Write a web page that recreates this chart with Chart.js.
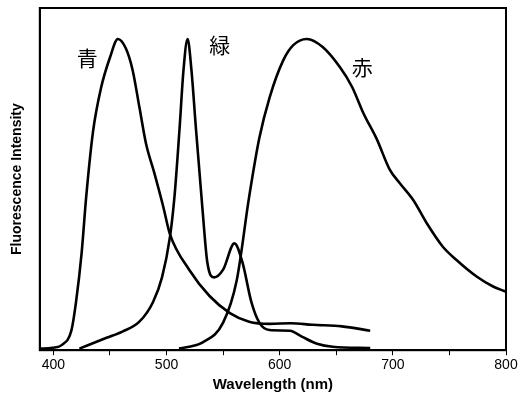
<!DOCTYPE html>
<html>
<head>
<meta charset="utf-8">
<script src="https://cdn.jsdelivr.net/npm/chart.js@4/dist/chart.umd.min.js"></script>
<style>
  html, body { margin: 0; padding: 0; background: #fff; }
  #wrap { width: 521px; height: 401px; }
</style>
</head>
<body>
<div id="wrap"><canvas id="graf"></canvas></div>
<script>
// dados (comprimento de onda nm, intensidade relativa)
const blueX = [388, 399, 408, 416, 420, 425, 429, 435, 442, 450, 457, 464, 470, 476, 482, 489, 497, 503, 520, 538, 556, 573, 591, 610, 629, 655, 680];
const blueY = [0.0, 0.003, 0.013, 0.06, 0.15, 0.31, 0.49, 0.70, 0.84, 0.94, 1.0, 0.97, 0.90, 0.78, 0.66, 0.57, 0.46, 0.37, 0.255, 0.17, 0.115, 0.087, 0.08, 0.082, 0.077, 0.072, 0.058];

const greenX = [423, 447, 461, 476, 488, 496, 503, 507, 511.5, 515, 518.6, 522, 526, 532, 536, 542, 550, 560, 567, 575, 582, 591, 609, 620, 633, 647, 680];
const greenY = [0.0, 0.035, 0.055, 0.087, 0.15, 0.23, 0.36, 0.49, 0.71, 0.90, 1.0, 0.90, 0.71, 0.44, 0.28, 0.23, 0.255, 0.34, 0.28, 0.15, 0.084, 0.06, 0.058, 0.038, 0.016, 0.006, 0.002];

const redX = [511, 520, 532, 550, 562, 573, 582, 591, 603, 612, 624, 638, 653, 664, 674, 686, 697, 706, 718, 730, 744, 756, 774, 789, 800];
const redY = [0.0, 0.006, 0.02, 0.084, 0.22, 0.49, 0.68, 0.81, 0.93, 0.98, 1.0, 0.974, 0.91, 0.845, 0.76, 0.675, 0.58, 0.535, 0.48, 0.405, 0.33, 0.287, 0.233, 0.20, 0.184];

const xTicks = [400, 500, 600, 700, 800];
const seriesLabels = ['青', '緑', '赤'];
// onde escrever os rotulos (nm, intensidade)
const labelPos = [[430, 0.94], [547, 0.98], [673, 0.91]];

function pontos(xs, ys) {
  return xs.map((x, i) => ({ x: x, y: ys[i] }));
}

const molduraPlugin = {
  id: 'moldura',
  afterDraw(chart) {
    const { ctx, chartArea: a, scales } = chart;
    ctx.save();
    ctx.strokeStyle = '#000';
    ctx.lineWidth = 2;
    ctx.strokeRect(a.left, a.top, a.right - a.left, a.bottom - a.top);
    ctx.fillStyle = '#000';
    ctx.font = '21px "Noto Sans CJK JP"';
    ctx.textAlign = 'center';
    ctx.textBaseline = 'middle';
    seriesLabels.forEach((t, i) => {
      ctx.fillText(t, scales.x.getPixelForValue(labelPos[i][0]), scales.y.getPixelForValue(labelPos[i][1]));
    });
    ctx.restore();
  }
};

const linha = { borderColor: '#000', borderWidth: 2.6, pointRadius: 0, cubicInterpolationMode: 'monotone', fill: false };

const ctx = document.getElementById('graf').getContext('2d');
const myChart = new Chart(ctx, {
  type: 'line',
  data: {
    datasets: [
      Object.assign({ label: seriesLabels[0], data: pontos(blueX, blueY) }, linha),
      Object.assign({ label: seriesLabels[1], data: pontos(greenX, greenY) }, linha),
      Object.assign({ label: seriesLabels[2], data: pontos(redX, redY) }, linha)
    ]
  },
  options: {
    responsive: true,
    maintainAspectRatio: false,
    animation: false,
    layout: { padding: { top: 8, right: 15, left: 9, bottom: 5 } },
    plugins: { legend: { display: false }, tooltip: { enabled: false } },
    scales: {
      x: {
        type: 'linear',
        min: 388,
        max: 800,
        afterBuildTicks: (s) => { s.ticks = [400, 450, 500, 550, 600, 650, 700, 750, 800].map(v => ({ value: v })); },
        ticks: {
          color: '#000',
          font: { family: 'Liberation Sans', size: 14 },
          padding: 2,
          maxRotation: 0,
          autoSkip: false,
          callback: (v) => xTicks.includes(v) ? String(v) : ''
        },
        grid: { drawOnChartArea: false, tickLength: 5, color: '#000' },
        border: { color: '#000', width: 2 },
        title: {
          display: true,
          text: 'Wavelength (nm)',
          color: '#000',
          font: { family: 'Liberation Sans', size: 15, weight: 'bold' },
          padding: { top: 0, bottom: 2 }
        }
      },
      y: {
        min: -0.005,
        max: 1.1,
        ticks: { display: false },
        grid: { display: false },
        border: { color: '#000', width: 2 },
        title: {
          display: true,
          text: 'Fluorescence Intensity',
          color: '#000',
          font: { family: 'Liberation Sans', size: 14, weight: 'bold' },
          padding: { top: 0, bottom: 6 }
        }
      }
    }
  },
  plugins: [molduraPlugin]
});
</script>
</body>
</html>
